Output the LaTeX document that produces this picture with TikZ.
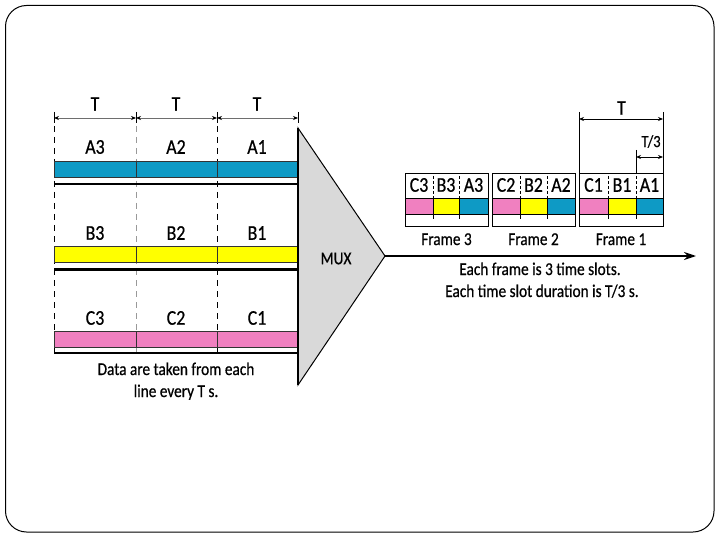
\documentclass[tikz,border=0pt]{standalone}
\usepackage{fontspec}
\setmainfont[FakeStretch=0.85,FakeBold=0.6]{Carlito}
\usetikzlibrary{arrows.meta}
\definecolor{cblue}{RGB}{14,154,197}
\definecolor{cyel}{RGB}{255,255,0}
\definecolor{cpink}{RGB}{240,128,192}
\definecolor{cgray}{RGB}{217,217,217}
\definecolor{dimgray}{RGB}{110,110,110}
\begin{document}
\begin{tikzpicture}[x=1pt,y=-1pt,
  big/.style={font=\fontsize{21}{23}\selectfont, inner sep=0pt},
  txt/.style={font=\fontsize{18}{20}\selectfont, inner sep=0pt, anchor=base},
  dimarrow/.style={draw=dimgray, line width=0.8pt, {Stealth[length=5pt,width=4pt,black]}-{Stealth[length=5pt,width=4pt,black]}},
  tick/.style={draw=black, line width=0.8pt},
  bar/.style={draw=black!80, line width=0.6pt},
  sep/.style={line width=2.7pt},
  guide/.style={draw=black, line width=0.8pt, dash pattern=on 6pt off 5pt},
  guidegray/.style={draw=black!40, line width=1pt, dash pattern=on 6pt off 5pt},
  fbox/.style={draw=black, line width=0.8pt}]
\useasboundingbox (0,0) rectangle (720,540);
\draw[line width=1pt, rounded corners=21pt] (5.5,5.5) rectangle (714,532);

% ---------- left: guides and dimension arrows ----------
\foreach \n/\x in {d0/54,d1/136,d2/217,d3/298}{
  \draw[tick] (\x,112) -- (\x,123);
  \coordinate (\n) at (\x,118);
}
\draw[guide] (54,126) -- (54,355);
\draw[guidegray] (136,126) -- (136,355);
\draw[guide] (217,126) -- (217,355);
\draw[dimarrow] (d0) -- (d1);
\draw[dimarrow] (d1) -- (d2);
\draw[dimarrow] (d2) -- (d3);
\node[big] (t3) at (95,104) {T};
\node[big] (t2) at (176,104) {T};
\node[big] (t1) at (257,104) {T};

% ---------- bars ----------
\foreach \c/\ya/\yb/\ys in {cblue/161/177/184, cyel/246/262/269.5, cpink/331/347/353}{
  \draw[bar, fill=\c] (54,\ya) rectangle (298,\yb);
  \draw[bar] (136,\ya) -- (136,\yb);
  \draw[bar] (217,\ya) -- (217,\yb);
  \draw[sep] (54,\ys) -- (298,\ys);
}
\node[big] (a3) at (95,147) {A3};
\node[big] (a2) at (176,147) {A2};
\node[big] (a1) at (257,147) {A1};
\node[big] (b3) at (95,233) {B3};
\node[big] (b2) at (176,233) {B2};
\node[big] (b1) at (257,233) {B1};
\node[big] (c3) at (95,318) {C3};
\node[big] (c2) at (176,318) {C2};
\node[big] (c1) at (257,318) {C1};
\node[txt] (data1) at (176,375) {Data are taken from each};
\node[txt] (data2) at (176,397) {line every T s.};

% ---------- MUX ----------
\coordinate (mt) at (298,128);
\coordinate (mb) at (298,385);
\coordinate (mx) at (385,256);
\draw[fill=cgray, line width=1pt] (mt) -- (mx) -- (mb) -- cycle;
\draw[line width=2.5pt] (mt) -- (mb);
\node[big, font=\fontsize{18}{20}\selectfont] (mux) at (336,258.5) {MUX};

% ---------- output line ----------
\coordinate (out) at (696,256);
\draw[line width=1.6pt, -{Stealth[length=12pt,width=8pt]}] (mx) -- (out);

% ---------- frames ----------
\foreach \fx/\fa/\fb/\fy/\num in {405/433/459/488/3, 492/520/547/575/2, 579/608/636/663/1}{
  \draw[fbox, fill=cpink] (\fx,198) rectangle (\fa,214);
  \draw[fbox, fill=cyel] (\fa,198) rectangle (\fb,214);
  \draw[fbox, fill=cblue] (\fb,198) rectangle (\fy,214);
  \draw[fbox] (\fx,173.5) rectangle (\fy,226);
  \draw[line width=0.7pt, dash pattern=on 3pt off 2pt] (\fa,176) -- (\fa,198);
  \draw[line width=0.7pt, dash pattern=on 3pt off 2pt] (\fb,176) -- (\fb,198);
  \draw[line width=0.7pt] (\fa,214) -- (\fa,219);
  \draw[line width=0.7pt] (\fb,214) -- (\fb,219);
}
\node[big] (f3c) at (419,185) {C3};
\node[big] (f3b) at (446,185) {B3};
\node[big] (f3a) at (473.5,185) {A3};
\node[big] (f2c) at (506,185) {C2};
\node[big] (f2b) at (533.5,185) {B2};
\node[big] (f2a) at (561,185) {A2};
\node[big] (f1c) at (593.5,185) {C1};
\node[big] (f1b) at (622,185) {B1};
\node[big] (f1a) at (649.5,185) {A1};
\node[txt] (fr3) at (446.5,245) {Frame 3};
\node[txt] (fr2) at (533.5,245) {Frame 2};
\node[txt] (fr1) at (621,245) {Frame 1};

% ---------- right dimensions ----------
\draw[tick] (579,112) -- (579,173.5);
\draw[tick] (663,112) -- (663,173.5);
\draw[tick] (636,150) -- (636,173.5);
\coordinate (r0) at (579,119);
\coordinate (r1) at (663,119);
\coordinate (s0) at (636,157);
\coordinate (s1) at (663,157);
\draw[dimarrow, draw=black] (r0) -- (r1);
\draw[dimarrow, draw=black] (s0) -- (s1);
\node[big] (tr) at (621.5,108) {T};
\node[big, font=\fontsize{17}{19}\selectfont] (tr3) at (651,141.5) {T/3};

% ---------- caption ----------
\node[txt] (cap1) at (540,275) {Each frame is 3 time slots.};
\node[txt] (cap2) at (542,297) {Each time slot duration is T/3 s.};
\end{tikzpicture}
\end{document}
